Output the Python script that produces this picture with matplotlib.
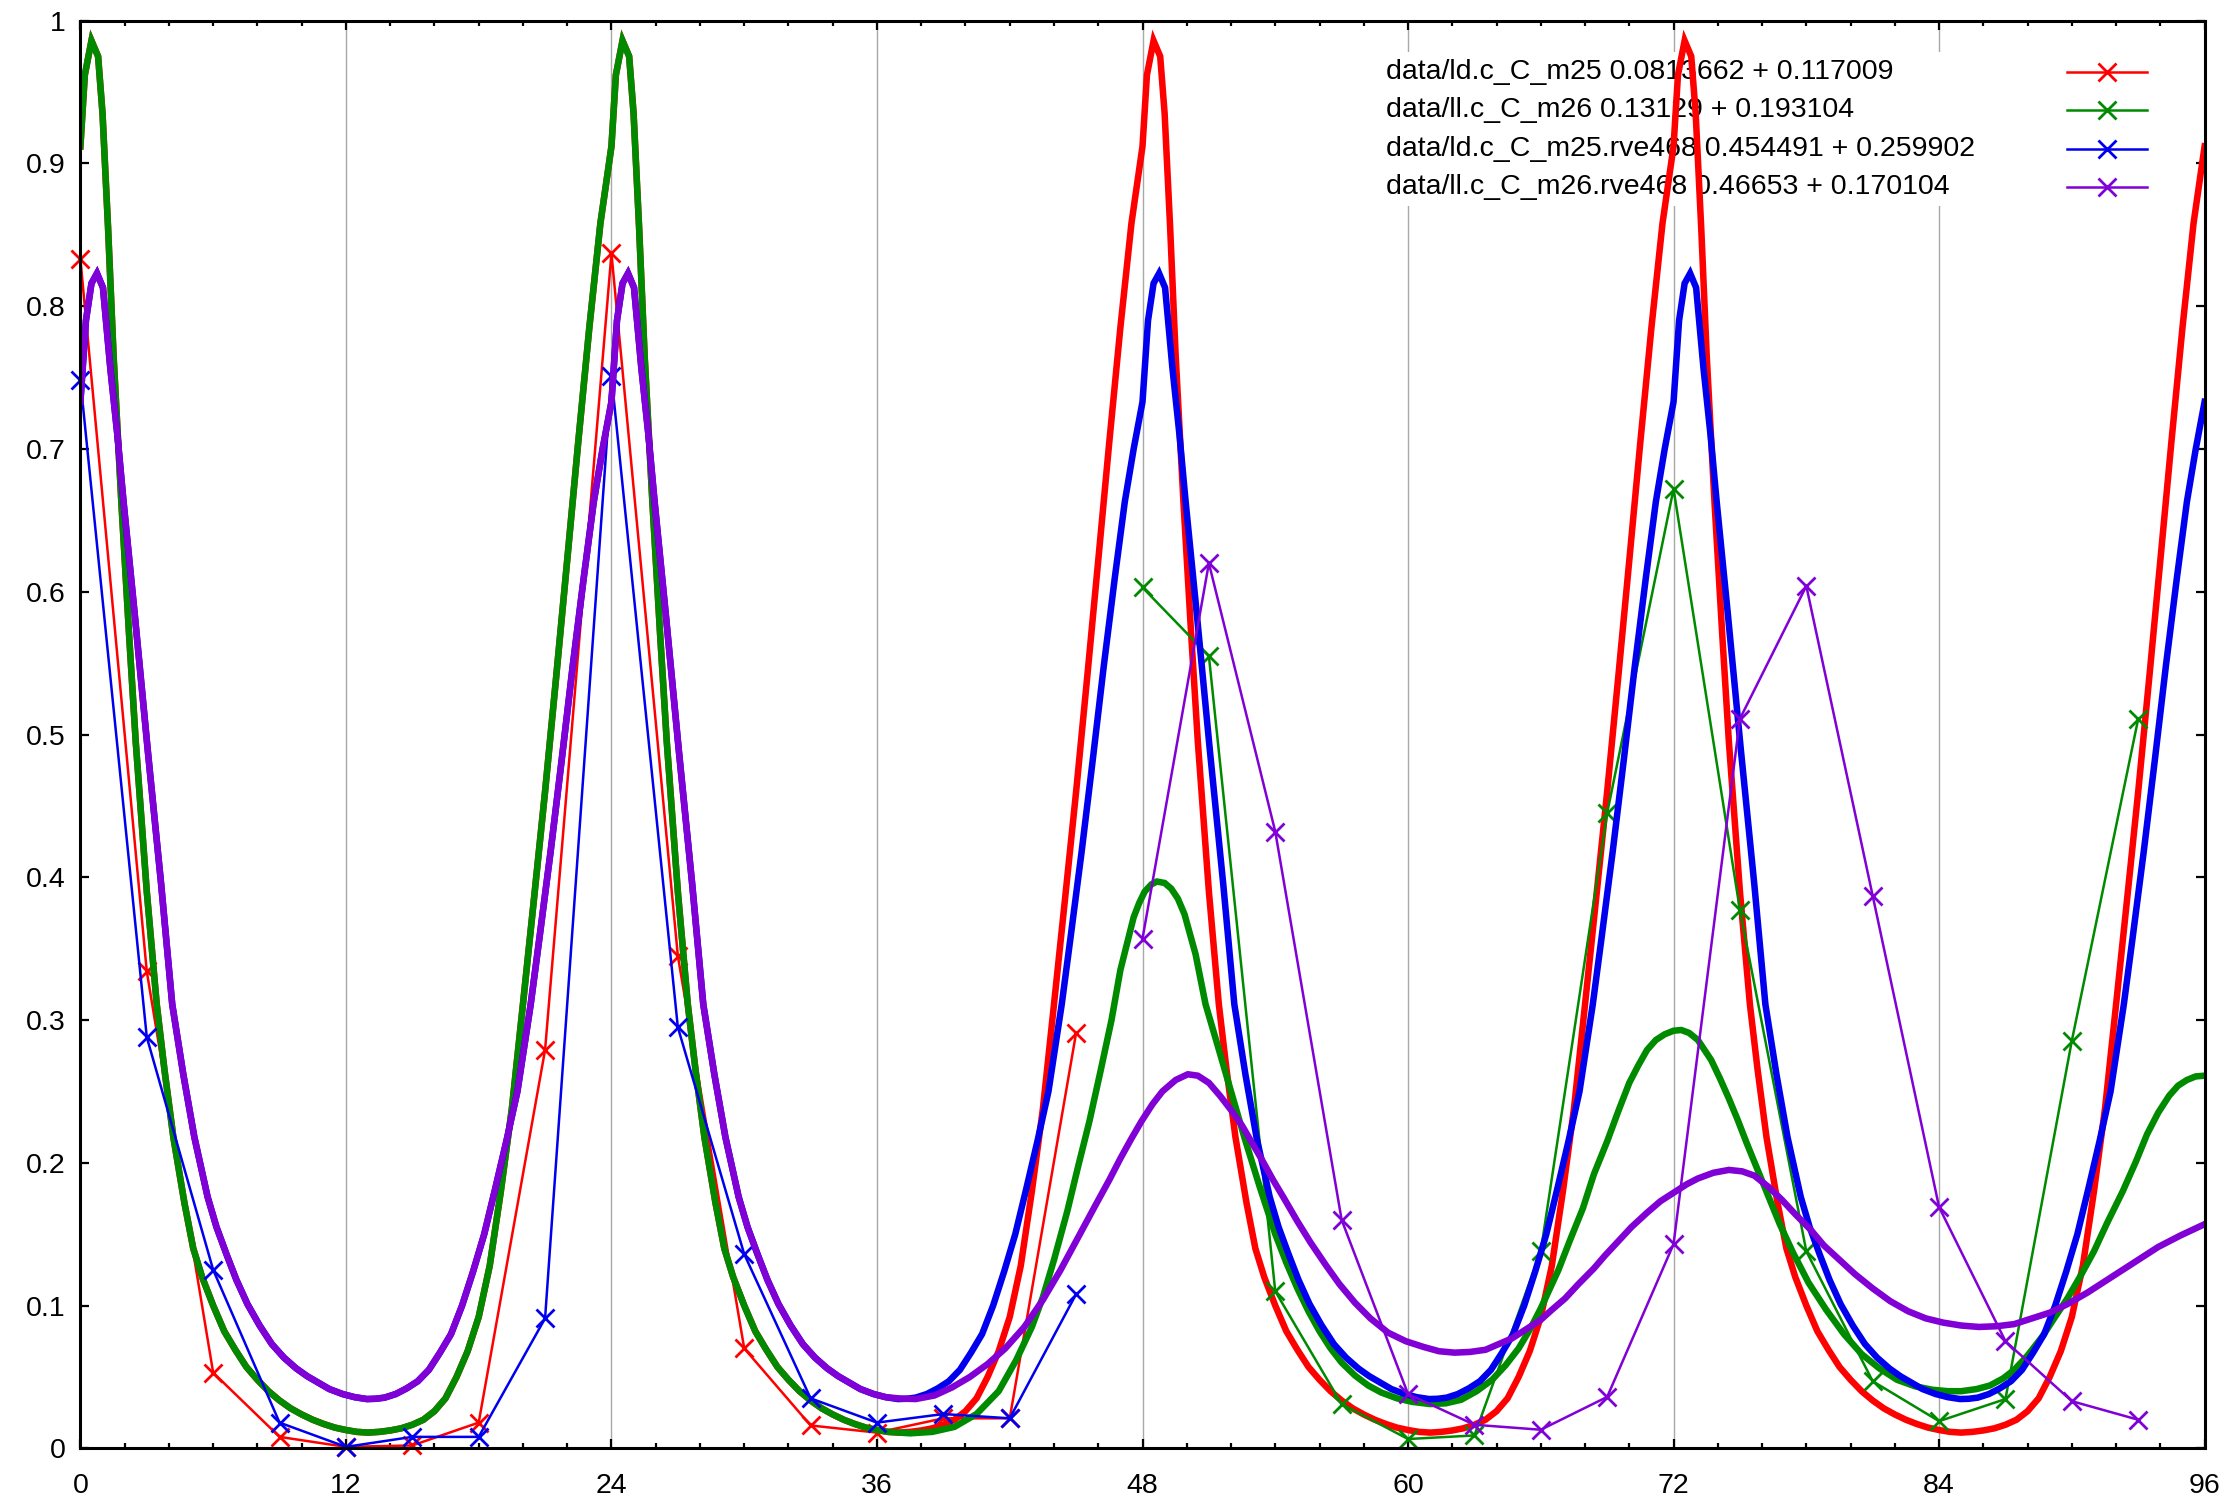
import matplotlib
matplotlib.use("Agg")
import matplotlib.pyplot as plt
from matplotlib.patches import Rectangle
from matplotlib.lines import Line2D
from matplotlib.ticker import FuncFormatter

plt.rcParams['font.family'] = ['Liberation Sans', 'DejaVu Sans']

# ---------------- data (sampled every 3 h) ----------------
T_FIRST = [0, 3, 6, 9, 12, 15, 18, 21, 24, 27, 30, 33, 36, 39, 42, 45]
T_SECOND = [48, 51, 54, 57, 60, 63, 66, 69, 72, 75, 78, 81, 84, 87, 90, 93]

RED_DATA = [0.833, 0.334, 0.053, 0.008, 0.001, 0.002, 0.018, 0.279,
            0.837, 0.345, 0.070, 0.016, 0.011, 0.021, 0.021, 0.291]
BLUE_DATA = [0.748, 0.288, 0.125, 0.018, 0.001, 0.008, 0.008, 0.091,
             0.751, 0.295, 0.136, 0.035, 0.018, 0.024, 0.021, 0.108]
GREEN_DATA = [0.603, 0.555, 0.110, 0.031, 0.0065, 0.009, 0.138, 0.445,
              0.672, 0.377, 0.138, 0.047, 0.019, 0.0345, 0.2855, 0.511]
PURPLE_DATA = [0.357, 0.620, 0.432, 0.160, 0.038, 0.0165, 0.013, 0.036,
               0.143, 0.511, 0.604, 0.387, 0.169, 0.075, 0.033, 0.020]

# ---------------- fitted curves ----------------
RED_CURVE_T = [
    0.0, 0.2, 0.5, 0.8, 1.0, 1.25, 1.5, 1.85, 2.2, 2.5,
    3.0, 3.45, 3.8, 4.2, 4.7, 5.1, 5.5, 6.0, 6.5, 7.0,
    7.5, 8.0, 8.5, 9.0, 9.5, 10.0, 10.5, 11.0, 11.5, 12.0,
    12.5,
    13.0, 13.5, 14.0, 14.5, 15.0, 15.5, 16.0, 16.5, 17.0, 17.5,
    18.0, 18.5, 19.0, 19.5, 20.0, 20.5, 21.0, 21.5, 22.0, 22.5,
    23.0, 23.5, 24.0, 24.2, 24.5, 24.8, 25.0, 25.25, 25.5, 25.85,
    26.2, 26.5, 27.0, 27.45, 27.8, 28.2, 28.7, 29.1, 29.5, 30.0,
    30.5, 31.0, 31.5, 32.0, 32.5, 33.0, 33.5, 34.0, 34.5, 35.0,
    35.5, 36.0, 36.5,
    37.0, 37.5, 38.0, 38.5, 39.0, 39.5, 40.0, 40.5, 41.0, 41.5,
    42.0, 42.5, 43.0, 43.5, 44.0, 44.5, 45.0, 45.5, 46.0, 46.5,
    47.0, 47.5, 48.0, 48.2, 48.5, 48.8, 49.0, 49.25, 49.5, 49.85,
    50.2, 50.5, 51.0, 51.45, 51.8, 52.2, 52.7, 53.1, 53.5, 54.0,
    54.5, 55.0, 55.5, 56.0, 56.5, 57.0, 57.5, 58.0, 58.5, 59.0,
    59.5, 60.0, 60.5,
    61.0, 61.5, 62.0, 62.5, 63.0, 63.5, 64.0, 64.5, 65.0, 65.5,
    66.0, 66.5, 67.0, 67.5, 68.0, 68.5, 69.0, 69.5, 70.0, 70.5,
    71.0, 71.5, 72.0, 72.2, 72.5, 72.8, 73.0, 73.25, 73.5, 73.85,
    74.2, 74.5, 75.0, 75.45, 75.8, 76.2, 76.7, 77.1, 77.5, 78.0,
    78.5, 79.0, 79.5, 80.0, 80.5, 81.0, 81.5, 82.0, 82.5, 83.0,
    83.5, 84.0, 84.5,
    85.0, 85.5, 86.0, 86.5, 87.0, 87.5, 88.0, 88.5, 89.0, 89.5,
    90.0, 90.5, 91.0, 91.5, 92.0, 92.5, 93.0, 93.5, 94.0, 94.5,
    95.0, 95.5, 96.0]
RED_CURVE_V = [
    0.912, 0.962, 0.986, 0.975, 0.935, 0.855, 0.765, 0.663, 0.570, 0.495,
    0.390, 0.311, 0.265, 0.218, 0.172, 0.140, 0.120, 0.100, 0.082, 0.069,
    0.057, 0.048, 0.040, 0.0335, 0.028, 0.0237, 0.020, 0.017, 0.0145, 0.0128,
    0.0115,
    0.011, 0.0115, 0.0125, 0.014, 0.0165, 0.020, 0.026, 0.035, 0.050, 0.068,
    0.092, 0.128, 0.180, 0.238, 0.311, 0.385, 0.460, 0.540, 0.622, 0.705,
    0.785, 0.858, 0.912, 0.962, 0.986, 0.975, 0.935, 0.855, 0.765, 0.663,
    0.570, 0.495, 0.390, 0.311, 0.265, 0.218, 0.172, 0.140, 0.120, 0.100,
    0.082, 0.069, 0.057, 0.048, 0.040, 0.0335, 0.028, 0.0237, 0.020, 0.017,
    0.0145, 0.0128, 0.0115,
    0.011, 0.0115, 0.0125, 0.014, 0.0165, 0.020, 0.026, 0.035, 0.050, 0.068,
    0.092, 0.128, 0.180, 0.238, 0.311, 0.385, 0.460, 0.540, 0.622, 0.705,
    0.785, 0.858, 0.912, 0.962, 0.986, 0.975, 0.935, 0.855, 0.765, 0.663,
    0.570, 0.495, 0.390, 0.311, 0.265, 0.218, 0.172, 0.140, 0.120, 0.100,
    0.082, 0.069, 0.057, 0.048, 0.040, 0.0335, 0.028, 0.0237, 0.020, 0.017,
    0.0145, 0.0128, 0.0115,
    0.011, 0.0115, 0.0125, 0.014, 0.0165, 0.020, 0.026, 0.035, 0.050, 0.068,
    0.092, 0.128, 0.180, 0.238, 0.311, 0.385, 0.460, 0.540, 0.622, 0.705,
    0.785, 0.858, 0.912, 0.962, 0.986, 0.975, 0.935, 0.855, 0.765, 0.663,
    0.570, 0.495, 0.390, 0.311, 0.265, 0.218, 0.172, 0.140, 0.120, 0.100,
    0.082, 0.069, 0.057, 0.048, 0.040, 0.0335, 0.028, 0.0237, 0.020, 0.017,
    0.0145, 0.0128, 0.0115,
    0.011, 0.0115, 0.0125, 0.014, 0.0165, 0.020, 0.026, 0.035, 0.050, 0.068,
    0.092, 0.128, 0.180, 0.238, 0.311, 0.385, 0.460, 0.540, 0.622, 0.705,
    0.785, 0.858, 0.912]

GREEN_CURVE_T = [
    0.0, 0.2, 0.5, 0.8, 1.0, 1.25, 1.5, 1.85, 2.2, 2.5,
    3.0, 3.45, 3.8, 4.2, 4.7, 5.1, 5.5, 6.0, 6.5, 7.0,
    7.5, 8.0, 8.5, 9.0, 9.5, 10.0, 10.5, 11.0, 11.5, 12.0,
    12.5,
    13.0, 13.5, 14.0, 14.5, 15.0, 15.5, 16.0, 16.5, 17.0, 17.5,
    18.0, 18.5, 19.0, 19.5, 20.0, 20.5, 21.0, 21.5, 22.0, 22.5,
    23.0, 23.5, 24.0, 24.2, 24.5, 24.8, 25.0, 25.25, 25.5, 25.85,
    26.2, 26.5, 27.0, 27.45, 27.8, 28.2, 28.7, 29.1, 29.5, 30.0,
    30.5, 31.0, 31.5, 32.0, 32.5, 33.0, 33.5, 34.0, 34.5, 35.0,
    35.5, 36.0, 36.5,
    37.5, 38.5, 39.5, 40.5, 41.5, 42.3, 43.0, 43.5, 44.0, 44.6,
    45.1, 45.6, 46.1, 46.6, 47.0, 47.6, 47.85, 48.1, 48.4, 48.65,
    49.0, 49.3, 49.6, 49.9, 50.4, 50.85, 51.4, 52.0, 52.6, 53.3,
    54.0, 54.5, 55.0, 55.5, 56.0, 56.5, 57.0, 57.6, 58.2, 58.8,
    59.5, 60.2, 61.0, 61.7, 62.4, 63.1, 63.8, 64.4, 65.0, 65.5,
    66.0, 66.8, 67.3, 67.9, 68.4, 69.0, 69.5, 70.0, 70.4, 70.8,
    71.2, 71.6, 72.0, 72.35, 72.7, 73.1, 73.7, 74.1, 74.5, 74.9,
    75.3, 75.8, 76.3, 76.8, 77.4, 78.1, 78.9, 79.7, 80.5, 81.3,
    82.1, 82.9, 83.7, 84.4, 85.0, 85.7, 86.3, 86.9, 87.4, 88.0,
    88.7, 89.2, 89.8, 90.4, 91.0, 91.6, 92.3, 92.9, 93.4, 93.9,
    94.4, 94.8, 95.2, 95.6, 96.0]
GREEN_CURVE_V = [
    0.912, 0.962, 0.986, 0.975, 0.935, 0.855, 0.765, 0.663, 0.570, 0.495,
    0.390, 0.311, 0.265, 0.218, 0.172, 0.140, 0.120, 0.100, 0.082, 0.069,
    0.057, 0.048, 0.040, 0.0335, 0.028, 0.0237, 0.020, 0.017, 0.0145, 0.0128,
    0.0115,
    0.011, 0.0115, 0.0125, 0.014, 0.0165, 0.020, 0.026, 0.035, 0.050, 0.068,
    0.092, 0.128, 0.180, 0.238, 0.311, 0.385, 0.460, 0.540, 0.622, 0.705,
    0.785, 0.858, 0.912, 0.962, 0.986, 0.975, 0.935, 0.855, 0.765, 0.663,
    0.570, 0.495, 0.390, 0.311, 0.265, 0.218, 0.172, 0.140, 0.120, 0.100,
    0.082, 0.069, 0.057, 0.048, 0.040, 0.0335, 0.028, 0.0237, 0.020, 0.017,
    0.0145, 0.0128, 0.0115,
    0.0105, 0.0115, 0.015, 0.024, 0.040, 0.062, 0.085, 0.106, 0.132, 0.166,
    0.198, 0.229, 0.264, 0.300, 0.335, 0.372, 0.382, 0.390, 0.395, 0.397,
    0.396, 0.392, 0.385, 0.374, 0.346, 0.311, 0.282, 0.250, 0.218, 0.183,
    0.150, 0.130, 0.112, 0.096, 0.082, 0.070, 0.060, 0.051, 0.044, 0.039,
    0.035, 0.0325, 0.031, 0.0315, 0.034, 0.040, 0.048, 0.058, 0.070, 0.083,
    0.098, 0.125, 0.145, 0.168, 0.192, 0.215, 0.236, 0.256, 0.268, 0.279,
    0.286, 0.290, 0.2925, 0.293, 0.291, 0.286, 0.272, 0.259, 0.245, 0.230,
    0.214, 0.195, 0.176, 0.157, 0.137, 0.116, 0.097, 0.080, 0.066, 0.056,
    0.048, 0.0435, 0.041, 0.040, 0.040, 0.0415, 0.044, 0.049, 0.055, 0.065,
    0.079, 0.091, 0.105, 0.121, 0.138, 0.158, 0.180, 0.201, 0.220, 0.235,
    0.247, 0.254, 0.258, 0.2605, 0.261]

BLUE_CURVE_T = [
    0.0, 0.25, 0.5, 0.75, 1.02, 1.35, 1.67, 1.95, 2.45, 3.05,
    3.65, 4.15, 4.65, 5.15, 5.75, 6.15, 6.6, 7.05, 7.55, 8.1,
    8.65, 9.2, 9.75, 10.25, 10.75, 11.25, 11.85, 12.4,
    12.95, 13.35, 13.75, 14.25, 14.75, 15.25, 15.75, 16.25, 16.75, 17.25,
    17.75, 18.25, 18.75, 19.25, 19.75, 20.35, 20.75, 21.25, 21.75, 22.25,
    22.75, 23.2, 23.6, 24.0, 24.25, 24.5, 24.75, 25.02, 25.35, 25.67,
    25.95, 26.45, 27.05, 27.65, 28.15, 28.65, 29.15, 29.75, 30.15, 30.6,
    31.05, 31.55, 32.1, 32.65, 33.2, 33.75, 34.25, 34.75, 35.25, 35.85,
    36.4,
    36.95, 37.35, 37.75, 38.25, 38.75, 39.25, 39.75, 40.25, 40.75, 41.25,
    41.75, 42.25, 42.75, 43.25, 43.75, 44.35, 44.75, 45.25, 45.75, 46.25,
    46.75, 47.2, 47.6, 48.0, 48.25, 48.5, 48.75, 49.02, 49.35, 49.67,
    49.95, 50.45, 51.05, 51.65, 52.15, 52.65, 53.15, 53.75, 54.15, 54.6,
    55.05, 55.55, 56.1, 56.65, 57.2, 57.75, 58.25, 58.75, 59.25, 59.85,
    60.4,
    60.95, 61.35, 61.75, 62.25, 62.75, 63.25, 63.75, 64.25, 64.75, 65.25,
    65.75, 66.25, 66.75, 67.25, 67.75, 68.35, 68.75, 69.25, 69.75, 70.25,
    70.75, 71.2, 71.6, 72.0, 72.25, 72.5, 72.75, 73.02, 73.35, 73.67,
    73.95, 74.45, 75.05, 75.65, 76.15, 76.65, 77.15, 77.75, 78.15, 78.6,
    79.05, 79.55, 80.1, 80.65, 81.2, 81.75, 82.25, 82.75, 83.25, 83.85,
    84.4,
    84.95, 85.35, 85.75, 86.25, 86.75, 87.25, 87.75, 88.25, 88.75, 89.25,
    89.75, 90.25, 90.75, 91.25, 91.75, 92.35, 92.75, 93.25, 93.75, 94.25,
    94.75, 95.2, 95.6, 96.0]
BLUE_CURVE_V = [
    0.733, 0.790, 0.816, 0.823, 0.813, 0.757, 0.710, 0.663, 0.585, 0.488,
    0.395, 0.311, 0.262, 0.218, 0.176, 0.155, 0.136, 0.118, 0.101, 0.086,
    0.073, 0.0635, 0.056, 0.0505, 0.046, 0.0415, 0.038, 0.0358,
    0.0345, 0.0347, 0.0355, 0.038, 0.042, 0.047, 0.055, 0.067, 0.080, 0.100,
    0.124, 0.150, 0.182, 0.215, 0.250, 0.311, 0.358, 0.418, 0.482, 0.548,
    0.610, 0.663, 0.700, 0.733, 0.790, 0.816, 0.823, 0.813, 0.757, 0.710,
    0.663, 0.585, 0.488, 0.395, 0.311, 0.262, 0.218, 0.176, 0.155, 0.136,
    0.118, 0.101, 0.086, 0.073, 0.0635, 0.056, 0.0505, 0.046, 0.0415, 0.038,
    0.0358,
    0.0345, 0.0347, 0.0355, 0.038, 0.042, 0.047, 0.055, 0.067, 0.080, 0.100,
    0.124, 0.150, 0.182, 0.215, 0.250, 0.311, 0.358, 0.418, 0.482, 0.548,
    0.610, 0.663, 0.700, 0.733, 0.790, 0.816, 0.823, 0.813, 0.757, 0.710,
    0.663, 0.585, 0.488, 0.395, 0.311, 0.262, 0.218, 0.176, 0.155, 0.136,
    0.118, 0.101, 0.086, 0.073, 0.0635, 0.056, 0.0505, 0.046, 0.0415, 0.038,
    0.0358,
    0.0345, 0.0347, 0.0355, 0.038, 0.042, 0.047, 0.055, 0.067, 0.080, 0.100,
    0.124, 0.150, 0.182, 0.215, 0.250, 0.311, 0.358, 0.418, 0.482, 0.548,
    0.610, 0.663, 0.700, 0.733, 0.790, 0.816, 0.823, 0.813, 0.757, 0.710,
    0.663, 0.585, 0.488, 0.395, 0.311, 0.262, 0.218, 0.176, 0.155, 0.136,
    0.118, 0.101, 0.086, 0.073, 0.0635, 0.056, 0.0505, 0.046, 0.0415, 0.038,
    0.0358,
    0.0345, 0.0347, 0.0355, 0.038, 0.042, 0.047, 0.055, 0.067, 0.080, 0.100,
    0.124, 0.150, 0.182, 0.215, 0.250, 0.311, 0.358, 0.418, 0.482, 0.548,
    0.610, 0.663, 0.700, 0.733]

PURPLE_CURVE_T = [
    0.0, 0.25, 0.5, 0.75, 1.02, 1.35, 1.67, 1.95, 2.45, 3.05,
    3.65, 4.15, 4.65, 5.15, 5.75, 6.15, 6.6, 7.05, 7.55, 8.1,
    8.65, 9.2, 9.75, 10.25, 10.75, 11.25, 11.85, 12.4,
    12.95, 13.35, 13.75, 14.25, 14.75, 15.25, 15.75, 16.25, 16.75, 17.25,
    17.75, 18.25, 18.75, 19.25, 19.75, 20.35, 20.75, 21.25, 21.75, 22.25,
    22.75, 23.2, 23.6, 24.0, 24.25, 24.5, 24.75, 25.02, 25.35, 25.67,
    25.95, 26.45, 27.05, 27.65, 28.15, 28.65, 29.15, 29.75, 30.15, 30.6,
    31.05, 31.55, 32.1, 32.65, 33.2, 33.75, 34.25, 34.75, 35.25, 35.85,
    36.4,
    37.1, 37.75, 38.6, 39.4, 40.2, 41.0, 41.8, 42.66, 43.5, 44.3,
    45.1, 45.9, 46.5, 47.0, 47.5, 47.95, 48.45, 48.9, 49.5, 50.05,
    50.5, 51.0, 51.5, 52.0, 52.5, 52.95, 53.4, 53.9, 54.4, 55.0,
    55.6, 56.3, 56.9, 57.6, 58.3, 59.1, 59.9, 60.7, 61.4, 62.1,
    62.8, 63.5, 64.1, 64.7, 65.3, 66.0, 66.5, 67.1, 67.7, 68.4,
    68.9, 69.5, 70.1, 70.8, 71.4, 72.1, 72.6, 73.1, 73.8, 74.5,
    75.1, 75.65, 76.3, 76.9, 77.5, 78.2, 78.8, 79.5, 80.2, 81.0,
    81.8, 82.6, 83.4, 84.2, 85.0, 85.8, 86.6, 87.4, 88.2, 89.0,
    89.8, 90.7, 91.5, 92.3, 93.1, 93.9, 94.9, 96.0]
PURPLE_CURVE_V = [
    0.733, 0.790, 0.816, 0.823, 0.813, 0.757, 0.710, 0.663, 0.585, 0.488,
    0.395, 0.311, 0.262, 0.218, 0.176, 0.155, 0.136, 0.118, 0.101, 0.086,
    0.073, 0.0635, 0.056, 0.0505, 0.046, 0.0415, 0.038, 0.0358,
    0.0345, 0.0347, 0.0355, 0.038, 0.042, 0.047, 0.055, 0.067, 0.080, 0.100,
    0.124, 0.150, 0.182, 0.215, 0.250, 0.311, 0.358, 0.418, 0.482, 0.548,
    0.610, 0.663, 0.700, 0.733, 0.790, 0.816, 0.823, 0.813, 0.757, 0.710,
    0.663, 0.585, 0.488, 0.395, 0.311, 0.262, 0.218, 0.176, 0.155, 0.136,
    0.118, 0.101, 0.086, 0.073, 0.0635, 0.056, 0.0505, 0.046, 0.0415, 0.038,
    0.0358,
    0.0348, 0.0345, 0.037, 0.0427, 0.050, 0.059, 0.070, 0.085, 0.104, 0.125,
    0.148, 0.171, 0.188, 0.203, 0.217, 0.229, 0.241, 0.250, 0.258, 0.262,
    0.261, 0.256, 0.247, 0.237, 0.226, 0.214, 0.202, 0.188, 0.175, 0.159,
    0.144, 0.128, 0.115, 0.102, 0.091, 0.081, 0.075, 0.071, 0.068, 0.067,
    0.0675, 0.069, 0.073, 0.077, 0.083, 0.090, 0.097, 0.105, 0.115, 0.126,
    0.135, 0.145, 0.155, 0.165, 0.173, 0.180, 0.185, 0.189, 0.193, 0.195,
    0.194, 0.191, 0.183, 0.174, 0.164, 0.153, 0.142, 0.132, 0.122, 0.112,
    0.103, 0.096, 0.091, 0.088, 0.086, 0.085, 0.0855, 0.087, 0.091, 0.095,
    0.101, 0.109, 0.117, 0.125, 0.133, 0.141, 0.149, 0.157]

LABELS = ["data/ld.c_C_m25 0.0813662 + 0.117009",
          "data/ll.c_C_m26 0.13129 + 0.193104",
          "data/ld.c_C_m25.rve468 0.454491 + 0.259902",
          "data/ll.c_C_m26.rve468 0.46653 + 0.170104"]
COLORS = ["#ff0000", "#008a00", "#0000ee", "#8000d6"]

X_TICKS = [0, 12, 24, 36, 48, 60, 72, 84, 96]
X_MINOR = [2, 4, 6, 8, 10, 14, 16, 18, 20, 22, 26, 28, 30, 32, 34, 38, 40, 42, 44, 46,
           50, 52, 54, 56, 58, 62, 64, 66, 68, 70, 74, 76, 78, 80, 82, 86, 88, 90, 92, 94]
Y_TICKS = [0, 0.1, 0.2, 0.3, 0.4, 0.5, 0.6, 0.7, 0.8, 0.9, 1.0]

# ---------------- figure ----------------
W, H = 2236, 1506
fig = plt.figure(figsize=(W / 100, H / 100), dpi=100)
L, R, T, B = 80.4, 2204.6, 20.7, 1448.3
ax = fig.add_axes([L / W, (H - B) / H, (R - L) / W, (B - T) / H])

def axx(px):
    return (px - L) / (R - L)

def axy(py):
    return (B - py) / (B - T)

FS = 20.5
DATA_STYLE = dict(lw=1.8, marker='x', ms=13, mew=2.0)

series = [
    (T_FIRST, RED_DATA, RED_CURVE_T, RED_CURVE_V),
    (T_SECOND, GREEN_DATA, GREEN_CURVE_T, GREEN_CURVE_V),
    (T_FIRST, BLUE_DATA, BLUE_CURVE_T, BLUE_CURVE_V),
    (T_SECOND, PURPLE_DATA, PURPLE_CURVE_T, PURPLE_CURVE_V),
]

z = 2.0
for (dt, dv, ct, cv), col, lab in zip(series, COLORS, LABELS):
    ax.plot(dt, dv, color=col, label=lab, zorder=z, clip_on=False, **DATA_STYLE)
    ax.plot(ct, cv, color=col, lw=4.7, zorder=z + 0.1, solid_joinstyle='miter')
    z += 0.2

ax.set_xlim(0, 96)
ax.set_ylim(0, 1)
ax.set_xticks(X_TICKS)
ax.set_xticks(X_MINOR, minor=True)
ax.set_yticks(Y_TICKS)
fmt = FuncFormatter(lambda v, p: '%g' % round(v, 6))
ax.xaxis.set_major_formatter(fmt)
ax.yaxis.set_major_formatter(fmt)

ax.tick_params(which='major', direction='in', length=6.5, width=1.6,
               top=True, right=True, labelsize=FS, color='black')
ax.tick_params(which='minor', direction='in', length=3.5, width=1.6,
               top=True, right=True)
ax.tick_params(axis='x', which='major', pad=18)
ax.tick_params(axis='y', which='major', pad=10.7)

ax.set_axisbelow(True)
ax.grid(axis='x', which='major', color='#a8a8a8', lw=1.0)
for sp in ax.spines.values():
    sp.set_linewidth(2.2)
    sp.set_zorder(3)

# ---------------- key (text left, sample on the right, opaque box) ----------------
ax.add_patch(Rectangle((axx(1372), axy(206)), axx(2186) - axx(1372), axy(52) - axy(206),
                       transform=ax.transAxes, facecolor='white', edgecolor='none',
                       zorder=1.0))
ROW_Y = [71.5, 110.0, 148.5, 187.0]
for lab, col, ry in zip(LABELS, COLORS, ROW_Y):
    ax.text(axx(1386), axy(ry), lab, transform=ax.transAxes, ha='left',
            va='center', fontsize=FS, zorder=1.1)
    ax.add_line(Line2D([axx(2067), axx(2147)], [axy(ry), axy(ry)], color=col,
                       lw=1.8, transform=ax.transAxes, zorder=1.2))
    ax.add_line(Line2D([axx(2107)], [axy(ry)], color=col, marker='x', ms=13,
                       mew=2.0, lw=0, transform=ax.transAxes, zorder=1.2))

fig.savefig("out.png", dpi=100)
